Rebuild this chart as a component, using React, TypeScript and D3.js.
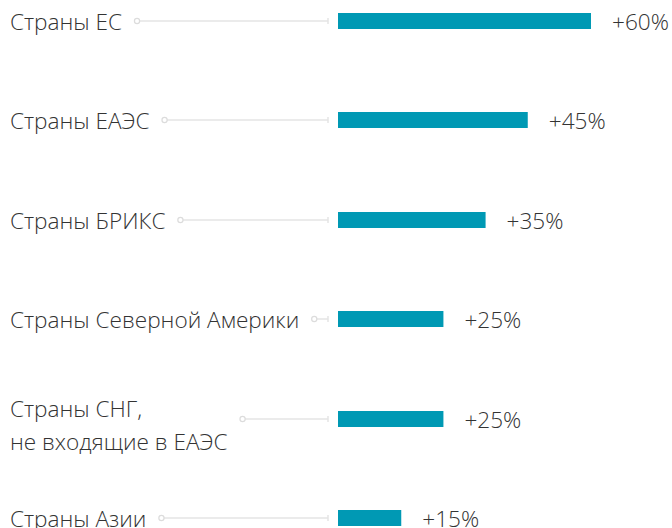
import React, { useEffect, useRef } from "react";
import * as d3 from "d3";

const categories: string[][] = [
  ["Страны ЕС"],
  ["Страны ЕАЭС"],
  ["Страны БРИКС"],
  ["Страны Северной Америки"],
  ["Страны СНГ,", "не входящие в ЕАЭС"],
  ["Страны Азии"],
];
const values: number[] = [60, 45, 35, 25, 25, 15];
const valueLabels: string[] = ["+60%", "+45%", "+35%", "+25%", "+25%", "+15%"];

const W = 672;
const H = 528;
const FONT = "'Open Sans', 'Noto Sans', sans-serif";
const FS = 22.6;

export default function App() {
  const ref = useRef<SVGSVGElement>(null);

  useEffect(() => {
    const svg = d3.select(ref.current);
    svg.selectAll("*").remove();

    const keys = categories.map((c) => c.join(" "));
    const y = d3.scalePoint<string>().domain(keys).range([21, 518]);
    const x = d3.scaleLinear().domain([0, 60]).range([338, 591]);
    const barH = 16;
    const lineEnd = 328;

    const rows = svg
      .selectAll("g.row")
      .data(categories.map((c, i) => ({ lines: c, key: keys[i], v: values[i], lbl: valueLabels[i] })))
      .join("g")
      .attr("class", "row");

    rows.each(function (d) {
      const g = d3.select(this);
      const cy = Math.round(y(d.key)!);
      const n = d.lines.length;
      const t = g
        .append("text")
        .attr("x", 10)
        .attr("font-family", FONT)
        .attr("font-weight", 300)
        .attr("font-size", FS)
        .attr("fill", "#333");
      const y0 = cy + 9 - (n - 1) * 11;
      d.lines.forEach((ln, i) => {
        t.append("tspan").attr("x", 10).attr("y", y0 + i * 33).text(ln);
      });
      let maxW = 0;
      t.selectAll<SVGTSpanElement, unknown>("tspan").each(function () {
        maxW = Math.max(maxW, this.getComputedTextLength());
      });
      const lx = 10 + maxW + 15;
      g.append("line")
        .attr("x1", lx)
        .attr("x2", lineEnd)
        .attr("y1", cy)
        .attr("y2", cy)
        .attr("stroke", "#e4e4e4")
        .attr("stroke-width", 1.5);
      g.append("line")
        .attr("x1", lineEnd)
        .attr("x2", lineEnd)
        .attr("y1", cy - 3)
        .attr("y2", cy + 3)
        .attr("stroke", "#e4e4e4")
        .attr("stroke-width", 1.5);
      g.append("circle")
        .attr("cx", lx)
        .attr("cy", cy)
        .attr("r", 2.6)
        .attr("fill", "#fff")
        .attr("stroke", "#dcdcdc")
        .attr("stroke-width", 1.2);

      g.append("rect")
        .attr("x", x(0))
        .attr("y", cy - barH / 2)
        .attr("width", x(d.v) - x(0))
        .attr("height", barH)
        .attr("fill", "#0099b4");

      g.append("text")
        .attr("x", x(d.v) + 21)
        .attr("y", cy + 9)
        .attr("font-family", FONT)
        .attr("font-weight", 300)
        .attr("font-size", FS)
        .attr("fill", "#333")
        .text(d.lbl);
    });
  }, []);

  return (
    <svg
      ref={ref}
      width={W}
      height={H}
      style={{ position: "absolute", left: 0, top: 0, background: "#fff" }}
    />
  );
}
